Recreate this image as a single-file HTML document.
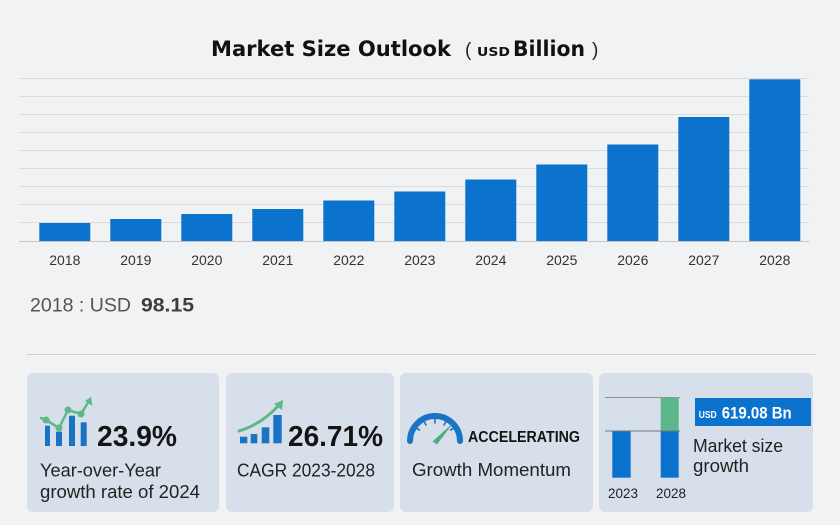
<!DOCTYPE html>
<html>
<head>
<meta charset="utf-8">
<style>
  html,body{margin:0;padding:0;background:#f1f2f4;}
  body{width:840px;height:525px;overflow:hidden;}
  svg{display:block;}
  .lbl{font-family:"Liberation Sans",Arial,sans-serif;font-size:14px;fill:#333;text-anchor:middle;}
  .t{font-family:"Liberation Sans",Arial,sans-serif;fill:#222;}
  .b{font-family:"Liberation Sans",Arial,sans-serif;font-weight:bold;fill:#141414;}
</style>
</head>
<body>
<svg width="840" height="525" viewBox="0 0 840 525" xmlns="http://www.w3.org/2000/svg">
  <rect x="0" y="0" width="840" height="525" fill="#f1f2f4"/>

  <!-- Title -->
  <text x="211" y="56" font-family="'DejaVu Sans','Liberation Sans',sans-serif" font-weight="bold" font-size="21" fill="#111" textLength="240" lengthAdjust="spacingAndGlyphs">Market Size Outlook</text>
  <text x="465" y="56" font-family="'Liberation Sans',sans-serif" font-size="19" fill="#222">(</text>
  <text x="477" y="56" font-family="'DejaVu Sans','Liberation Sans',sans-serif" font-weight="bold" font-size="12" fill="#111" textLength="33" lengthAdjust="spacingAndGlyphs">USD</text>
  <text x="513" y="56" font-family="'DejaVu Sans','Liberation Sans',sans-serif" font-weight="bold" font-size="21" fill="#111" textLength="72" lengthAdjust="spacingAndGlyphs">Billion</text>
  <text x="592" y="56" font-family="'Liberation Sans',sans-serif" font-size="19" fill="#222">)</text>

  <!-- Gridlines -->
  <g stroke="#dadbdd" stroke-width="1">
    <line x1="19" y1="78.5" x2="809" y2="78.5"/>
    <line x1="19" y1="96.5" x2="809" y2="96.5"/>
    <line x1="19" y1="114.5" x2="809" y2="114.5"/>
    <line x1="19" y1="132.5" x2="809" y2="132.5"/>
    <line x1="19" y1="150.5" x2="809" y2="150.5"/>
    <line x1="19" y1="168.5" x2="809" y2="168.5"/>
    <line x1="19" y1="186.5" x2="809" y2="186.5"/>
    <line x1="19" y1="204.5" x2="809" y2="204.5"/>
    <line x1="19" y1="222.5" x2="809" y2="222.5"/>
  </g>
  <line x1="19" y1="241.5" x2="809" y2="241.5" stroke="#c4c6c9" stroke-width="1"/>

  <!-- Bars -->
  <g fill="#0b73cd">
    <rect x="39.3" y="223" width="51" height="18"/>
    <rect x="110.3" y="219" width="51" height="22"/>
    <rect x="181.3" y="214" width="51" height="27"/>
    <rect x="252.3" y="209" width="51" height="32"/>
    <rect x="323.3" y="200.5" width="51" height="40.5"/>
    <rect x="394.3" y="191.5" width="51" height="49.5"/>
    <rect x="465.3" y="179.5" width="51" height="61.5"/>
    <rect x="536.3" y="164.5" width="51" height="76.5"/>
    <rect x="607.3" y="144.5" width="51" height="96.5"/>
    <rect x="678.3" y="117" width="51" height="124"/>
    <rect x="749.3" y="79.3" width="51" height="161.7"/>
  </g>

  <!-- Year labels -->
  <g class="lbl">
    <text x="64.8" y="265">2018</text>
    <text x="135.8" y="265">2019</text>
    <text x="206.8" y="265">2020</text>
    <text x="277.8" y="265">2021</text>
    <text x="348.8" y="265">2022</text>
    <text x="419.8" y="265">2023</text>
    <text x="490.8" y="265">2024</text>
    <text x="561.8" y="265">2025</text>
    <text x="632.8" y="265">2026</text>
    <text x="703.8" y="265">2027</text>
    <text x="774.8" y="265">2028</text>
  </g>

  <!-- 2018 value -->
  <text x="30" y="311.5" font-family="'Liberation Sans',sans-serif" font-size="19" fill="#555" textLength="101" lengthAdjust="spacingAndGlyphs">2018 : USD</text>
  <text x="141" y="311.5" font-family="'Liberation Sans',sans-serif" font-weight="bold" font-size="19" fill="#3d3d3d" textLength="53" lengthAdjust="spacingAndGlyphs">98.15</text>

  <!-- separator -->
  <line x1="27" y1="354.5" x2="816" y2="354.5" stroke="#cdd0d3" stroke-width="1"/>

  <!-- Cards -->
  <g fill="#d7e0ea">
    <rect x="27" y="373" width="192" height="139" rx="6"/>
    <rect x="226" y="373" width="168" height="139" rx="6"/>
    <rect x="400" y="373" width="193" height="139" rx="6"/>
    <rect x="599" y="373" width="214" height="139" rx="6"/>
  </g>

  <!-- Card 1 icon -->
  <g fill="#1a74c6">
    <rect x="45" y="425.7" width="5" height="20.3"/>
    <rect x="56" y="431.7" width="6" height="14.3"/>
    <rect x="69" y="415.7" width="6" height="30.3"/>
    <rect x="80.7" y="422.3" width="6" height="23.7"/>
  </g>
  <g stroke="#5cb88a" stroke-width="2.5" fill="none" stroke-linejoin="round" stroke-linecap="round">
    <polyline points="41,418 46,420 59,428 68,410 81,414 89,401"/>
  </g>
  <g fill="#5cb88a">
    <circle cx="46" cy="420" r="3.5"/>
    <circle cx="59" cy="428" r="3.5"/>
    <circle cx="68" cy="410" r="3.5"/>
    <circle cx="81" cy="414" r="3.5"/>
    <polygon points="91,397 92.5,406 85,401"/>
  </g>
  <text x="97" y="446" class="b" font-size="29" textLength="80" lengthAdjust="spacingAndGlyphs">23.9%</text>
  <text x="40" y="476.5" class="t" font-size="18" textLength="121" lengthAdjust="spacingAndGlyphs">Year-over-Year</text>
  <text x="40" y="498" class="t" font-size="18" textLength="160" lengthAdjust="spacingAndGlyphs">growth rate of 2024</text>

  <!-- Card 2 icon -->
  <g fill="#1a74c6">
    <rect x="240" y="436.7" width="7.3" height="6.6"/>
    <rect x="250.7" y="434" width="6.6" height="9.3"/>
    <rect x="261.7" y="427.3" width="7.6" height="16"/>
    <rect x="273.3" y="415" width="8.4" height="28.3"/>
  </g>
  <path d="M239,431 Q262,424 279,405" stroke="#5cb88a" stroke-width="3" fill="none" stroke-linecap="round"/>
  <polygon points="283,400 282,410 274,404" fill="#5cb88a"/>
  <text x="288" y="446" class="b" font-size="29" textLength="95" lengthAdjust="spacingAndGlyphs">26.71%</text>
  <text x="237" y="476.5" class="t" font-size="18" textLength="138" lengthAdjust="spacingAndGlyphs">CAGR 2023-2028</text>

  <!-- Card 3 gauge -->
  <path d="M410,441 A25,25 0 0 1 460,441" stroke="#1a74c6" stroke-width="6" fill="none" stroke-linecap="round"/>
  <g stroke="#1a74c6" stroke-width="1.6" stroke-linecap="round">
    <line x1="435" y1="419" x2="435" y2="423"/>
    <line x1="424" y1="421.5" x2="426" y2="425"/>
    <line x1="416" y1="428" x2="419.5" y2="430"/>
    <line x1="446" y1="421.5" x2="444" y2="425"/>
    <line x1="454" y1="428" x2="450.5" y2="430"/>
  </g>
  <polygon points="432.5,441.5 437,444.5 454,422" fill="#4fae7f"/>
  <text x="468" y="442" class="b" font-size="15.5" textLength="112" lengthAdjust="spacingAndGlyphs">ACCELERATING</text>
  <text x="412" y="476" class="t" font-size="18" textLength="159" lengthAdjust="spacingAndGlyphs">Growth Momentum</text>

  <!-- Card 4 -->
  <line x1="605" y1="397.5" x2="680" y2="397.5" stroke="#8a9099" stroke-width="1"/>
  <rect x="660.7" y="397.5" width="18" height="33.5" fill="#5cb88a"/>
  <rect x="612.3" y="431" width="18.4" height="46.7" fill="#0b73cd"/>
  <rect x="660.7" y="431" width="18" height="46.7" fill="#0b73cd"/>
  <line x1="605" y1="431" x2="680" y2="431" stroke="#6f7680" stroke-width="1"/>
  <text x="623" y="498" class="t" font-size="14" text-anchor="middle" fill="#333" textLength="30" lengthAdjust="spacingAndGlyphs">2023</text>
  <text x="671" y="498" class="t" font-size="14" text-anchor="middle" fill="#333" textLength="30" lengthAdjust="spacingAndGlyphs">2028</text>

  <rect x="695" y="398" width="116" height="28" fill="#0b73cd"/>
  <text x="698.7" y="418" font-family="'Liberation Sans',sans-serif" font-weight="bold" font-size="10" fill="#fff" textLength="18" lengthAdjust="spacingAndGlyphs">USD</text>
  <text x="721.7" y="418.3" font-family="'Liberation Sans',sans-serif" font-weight="bold" font-size="17" fill="#fff" textLength="70" lengthAdjust="spacingAndGlyphs">619.08 Bn</text>
  <text x="693" y="452" class="t" font-size="18" textLength="90" lengthAdjust="spacingAndGlyphs">Market size</text>
  <text x="693" y="472" class="t" font-size="18" textLength="56" lengthAdjust="spacingAndGlyphs">growth</text>
</svg>
</body>
</html>
